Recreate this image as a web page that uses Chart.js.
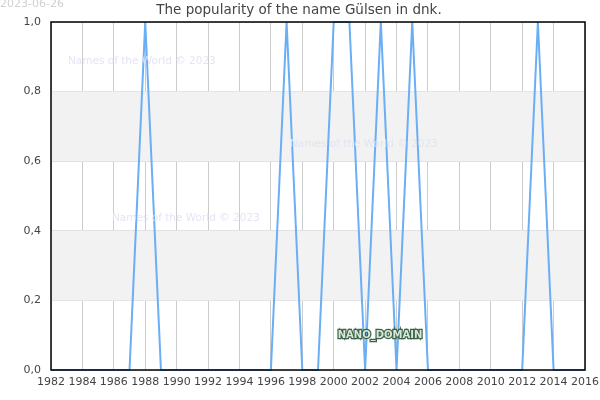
<!DOCTYPE html>
<html>
<head>
<meta charset="utf-8">
<script src="https://cdn.jsdelivr.net/npm/chart.js@4"></script>
<style>
html,body{margin:0;padding:0;background:#fff;}
#wrap{width:600px;height:400px;}
</style>
</head>
<body>
<div id="wrap"><canvas id="c" width="600" height="400"></canvas></div>
<script>
const titleText = "The popularity of the name Gülsen in dnk.";
const dateText = "2023-06-26";
const watermark = "Names of the World © 2023";
const years = [1982,1983,1984,1985,1986,1987,1988,1989,1990,1991,1992,1993,1994,1995,1996,1997,1998,1999,2000,2001,2002,2003,2004,2005,2006,2007,2008,2009,2010,2011,2012,2013,2014,2015,2016];
const popularity = [0,0,0,0,0,0,1,0,0,0,0,0,0,0,0,1,0,0,1,1,0,1,0,1,0,0,0,0,0,0,0,1,0,0,0];
const yTicks = [0,0.2,0.4,0.6,0.8,1.0];
const bands = [[0.2,0.4],[0.6,0.8]];

const decor = {
  id:'decor',
  beforeDatasetsDraw(chart){
    const {ctx, chartArea:a, scales:{y}} = chart;
    ctx.save();
    ctx.fillStyle = '#f2f2f2';
    bands.forEach(([lo,hi])=>{
      const t = y.getPixelForValue(hi), b = y.getPixelForValue(lo);
      ctx.fillRect(a.left, t, a.right-a.left, b-t);
    });
    ctx.restore();
  },
  beforeDraw(chart){
    const {ctx} = chart;
    ctx.save();
    ctx.fillStyle='#fff';
    ctx.fillRect(0,0,chart.width,chart.height);
    ctx.restore();
  },
  afterDatasetsDraw(chart){
    const {ctx, chartArea:a} = chart;
    ctx.save();
    ctx.strokeStyle='#000';
    ctx.lineWidth=1.5;
    ctx.strokeRect(a.left, a.top, a.right-a.left, a.bottom-a.top);
    ctx.restore();
  },
  afterDraw(chart){
    const {ctx} = chart;
    ctx.save();
    ctx.font = '10.5px "DejaVu Sans"';
    ctx.fillStyle = 'rgba(225,225,245,0.9)';
    ctx.textBaseline='middle';
    ctx.textAlign='left';
    ctx.fillText(watermark, 68, 61);
    ctx.fillText(watermark, 290, 144);
    ctx.fillText(watermark, 112, 218);
    ctx.fillStyle = '#d0d0d0';
    ctx.font = '11px "DejaVu Sans"';
    ctx.fillText(dateText, 0, 4);
    ctx.fillStyle = '#444';
    ctx.font = '13.5px "DejaVu Sans"';
    ctx.textAlign='center';
    ctx.fillText(titleText, 299, 10);
    ctx.font = 'bold 10px "DejaVu Sans"';
    ctx.lineWidth = 2.5;
    ctx.strokeStyle = '#3b6048';
    ctx.strokeText('NANO_DOMAIN', 380, 335);
    ctx.fillStyle = '#d8e8d8';
    ctx.fillText('NANO_DOMAIN', 380, 335);
    ctx.restore();
  }
};

new Chart(document.getElementById('c'), {
  type:'line',
  data:{
    datasets:[{
      data: years.map((yr,i)=>({x:yr, y:popularity[i]})),
      borderColor:'#6aaef5',
      borderWidth:2,
      pointRadius:0,
      tension:0,
      fill:false,
      clip:false
    }]
  },
  options:{
    responsive:false,
    animation:false,
    devicePixelRatio:1,
    layout:{padding:{top:22,right:0,left:0,bottom:0}},
    plugins:{legend:{display:false}, title:{display:false}, tooltip:{enabled:false}},
    scales:{
      x:{
        type:'linear', min:1982, max:2016,
        afterFit(s){ s.height = 30; s.paddingRight = 15; s.paddingLeft = 0; },
        border:{display:false},
        grid:{color:'#cccccc', drawTicks:false, lineWidth:1},
        ticks:{stepSize:2, padding:6, color:'#444', font:{family:'DejaVu Sans', size:11}, maxRotation:0, autoSkip:false,
          callback:v=>String(v)}
      },
      y:{
        min:0, max:1,
        afterFit(s){ s.width = 51; },
        afterBuildTicks(s){ s.ticks = yTicks.map(v=>({value:v})); },
        border:{display:false},
        grid:{color:'#dddddd', drawTicks:false, lineWidth:1},
        ticks:{padding:10, color:'#444', font:{family:'DejaVu Sans', size:11},
          callback:v=>v.toFixed(1).replace('.',',')}
      }
    }
  },
  plugins:[decor]
});
</script>
</body>
</html>
